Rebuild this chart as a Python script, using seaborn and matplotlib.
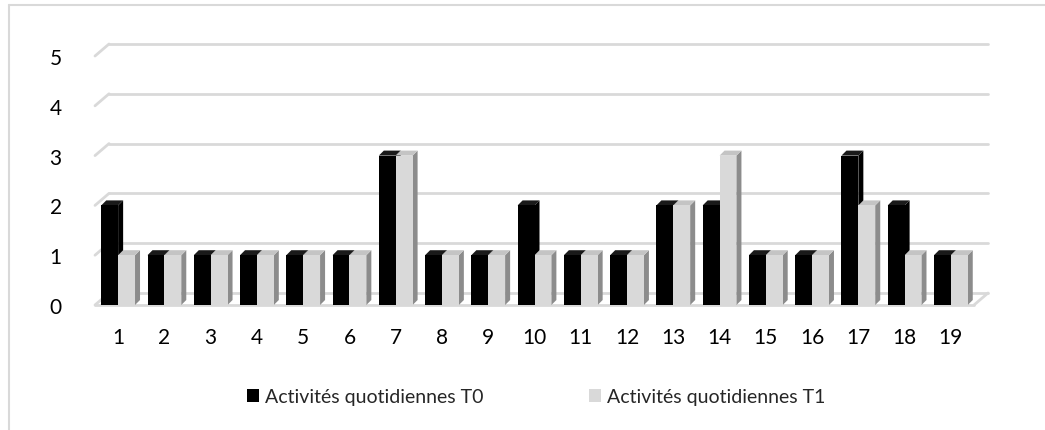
import pandas as pd
import numpy as np
import matplotlib
matplotlib.use("Agg")
import matplotlib.pyplot as plt
import seaborn as sns
from matplotlib.patches import Polygon
from matplotlib.lines import Line2D

# data
categories = [str(i) for i in range(1, 20)]
t0_values = [2, 1, 1, 1, 1, 1, 3, 1, 1, 2, 1, 1, 2, 2, 1, 1, 3, 2, 1]
t1_values = [1, 1, 1, 1, 1, 1, 3, 1, 1, 1, 1, 1, 2, 3, 1, 1, 2, 1, 1]
series_names = ["Activités quotidiennes T0", "Activités quotidiennes T1"]
y_ticks = [0, 1, 2, 3, 4, 5]

front_colors = ["#000000", "#d9d9d9"]
side_colors = ["#000000", "#8c8c8c"]
top_colors = ["#1a1a1a", "#c4c4c4"]
grid_color = "#d9d9d9"

W, H, DPI = 1045, 431, 100

df = pd.DataFrame({
    "cat": categories * 2,
    "value": t0_values + t1_values,
    "serie": [series_names[0]] * len(categories) + [series_names[1]] * len(categories),
})

sns.set_style("white")
plt.rcParams['font.family'] = ['Lato', 'DejaVu Sans']

fig = plt.figure(figsize=(W / DPI, H / DPI), dpi=DPI)
ax_left, ax_right = 95, 974
ax_zero, ax_top = 306, 57
ax = fig.add_axes([ax_left / W, (H - ax_zero) / H, (ax_right - ax_left) / W, (ax_zero - ax_top) / H])

sns.barplot(data=df, x="cat", y="value", hue="serie", palette=front_colors,
            width=0.73, ax=ax, legend=False, zorder=3, linewidth=0, saturation=1)

ax.set_xlim(-0.5, len(categories) - 0.5)
ax.set_ylim(0, 5)

# pixel -> data conversion for the depth offset
px_x = (len(categories)) / (ax_right - ax_left)
px_y = 5 / (ax_zero - ax_top)

# 3D look: side and top faces for each bar
dpx, dpy = 5, 5
for i, patch in enumerate(list(ax.patches)):
    s = 0 if i < len(categories) else 1
    x, w, h = patch.get_x(), patch.get_width(), patch.get_height()
    dx, dy = dpx * px_x, dpy * px_y
    side = Polygon([(x + w, 0), (x + w, h), (x + w + dx, h + dy), (x + w + dx, dy)],
                   closed=True, facecolor=side_colors[s], edgecolor="none", zorder=2)
    top = Polygon([(x, h), (x + w, h), (x + w + dx, h + dy), (x + dx, h + dy)],
                  closed=True, facecolor=top_colors[s], edgecolor="none", zorder=2)
    ax.add_patch(side)
    ax.add_patch(top)

# back wall gridlines and floor
gdx, gdy = 14 * px_x, 12 * px_y
x0, x1 = -0.5, len(categories) - 0.5
for v in y_ticks:
    ax.plot([x0 + gdx, x1 + gdx], [v + gdy, v + gdy], color=grid_color, lw=2, zorder=1, clip_on=False)
    ax.plot([x0, x0 + gdx], [v, v + gdy], color=grid_color, lw=2, zorder=1, clip_on=False)
ax.plot([x0, x1], [0, 0], color=grid_color, lw=2, zorder=1, clip_on=False)
ax.plot([x1, x1 + gdx], [0, gdy], color=grid_color, lw=2, zorder=1, clip_on=False)

ax.set_yticks(y_ticks)
ax.set_yticklabels([str(v) for v in y_ticks])
ax.tick_params(axis="both", length=0, labelsize=15, colors="#000000")
ax.tick_params(axis="y", pad=24)
ax.tick_params(axis="x", pad=16)
ax.set_xlabel("")
ax.set_ylabel("")
for sp in ax.spines.values():
    sp.set_visible(False)

handles = [plt.Rectangle((0, 0), 1, 1, facecolor=c, edgecolor="none") for c in front_colors]
fig.legend(handles, series_names, loc="center", bbox_to_anchor=(536 / W, 1 - 398 / H),
           ncol=2, frameon=False, fontsize=14, handlelength=0.65, handleheight=0.65,
           handletextpad=0.3, columnspacing=5.4)

# chart area border (left and top visible)
fig.add_artist(Line2D([9 / W, 9 / W], [0, 1 - 6 / H], color=grid_color, lw=1.5))
fig.add_artist(Line2D([9 / W, 1], [1 - 6 / H, 1 - 6 / H], color=grid_color, lw=1.5))

fig.savefig("out.png", dpi=DPI)
